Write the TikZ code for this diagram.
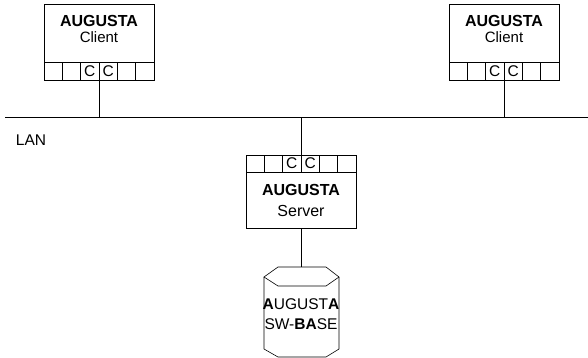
\documentclass[tikz,border=0pt]{standalone}
\usepackage{fontspec}
\setmainfont{Liberation Sans}
\usepackage{tikz}
\usetikzlibrary{positioning}

\begin{document}
\begin{tikzpicture}[
    x=1pt, y=-1pt,
    box/.style={rectangle, draw, align=center, minimum width=110pt, outer sep=0pt, inner sep=1pt, font=\fontsize{16}{16}\selectfont},
    cell/.style={rectangle, draw, minimum width=18.333pt, minimum height=18pt, inner sep=0pt, outer sep=0pt, font=\fontsize{15.5}{16}\selectfont},
    lbl/.style={font=\fontsize{15.5}{16}\selectfont},
    line/.style={line width=0.6pt}
]
\useasboundingbox (0,0) rectangle (588,358);

% LAN
\coordinate (lanW) at (5,117);
\coordinate (lanE) at (588,117);
\draw[line] (lanW) -- (lanE);
\node[lbl] (lan) at (31,140) {LAN};

% Clients
\node[box, line, minimum height=58pt, text depth=9pt] (clL) at (99,33) {\textbf{AUGUSTA}\\{\fontsize{15}{16}\selectfont Client}};
\node[box, line, minimum height=58pt, text depth=9pt] (clR) at (504,33) {\textbf{AUGUSTA}\\{\fontsize{15}{16}\selectfont Client}};
\foreach \n in {clL,clR} {
  \foreach \i/\t in {1/,2/,3/C,4/C,5/,6/}
    \node[cell, line, anchor=north west, xshift={(\i-1)*18.333pt}] (\n-\i) at (\n.south west) {\t};
  \draw[line] (\n-3.south east) -- (\n-3.south east |- lanW);
}

% Server
\node[box, line, minimum height=56pt] (srv) at (301,200) {\textbf{AUGUSTA}\\[5pt]Server};
\foreach \i/\t in {1/,2/,3/C,4/C,5/,6/}
  \node[cell, line, minimum height=17pt, anchor=south west, xshift={(\i-1)*18.333pt}] (srv-\i) at (srv.north west) {\t};
\draw[line] (srv-3.north east) -- (srv-3.north east |- lanW);

% SW base
\coordinate (dbtop) at (301,267);
\draw[line] (264,277) -- (278,267) -- (326,267) -- (339,277) -- (326,286) -- (278,286) -- cycle;
\draw[line] (264,277) -- (264,349) -- (278,357) -- (326,357) -- (339,349) -- (339,277);
\node[lbl, align=center] (db) at (301,314) {\textbf{A}UGUST\textbf{A}\\[4pt]SW-\textbf{BA}SE};
\draw[line] (srv.south) -- (dbtop);

\end{tikzpicture}
\end{document}
